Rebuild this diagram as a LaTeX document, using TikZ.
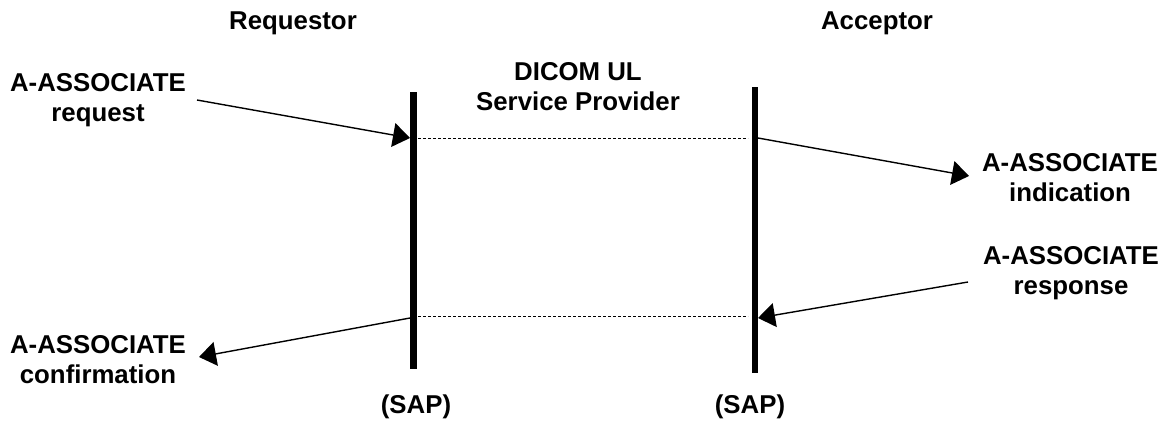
\documentclass[tikz,border=0pt]{standalone}
\usepackage{fontspec}
\setmainfont{Liberation Sans}
\usetikzlibrary{arrows.meta}
\begin{document}
\begin{tikzpicture}[x=1pt,y=-1pt,
  lbl/.style={font=\bfseries\fontsize{25.8}{30.5}\selectfont, align=center, inner sep=0pt, anchor=north},
  bar/.style={line width=6.5pt},
  dashline/.style={line width=0.9pt, dash pattern=on 3pt off 2pt},
  msg/.style={line width=1.4pt, -{Triangle[length=17pt,width=24pt]}, shorten >=0pt}]
\useasboundingbox (0,0) rectangle (1167,429);
% titles
\node[lbl] (req) at (293,12) {Requestor};
\node[lbl] (acc) at (877,12) {Acceptor};
\node[lbl] (prov) at (578,62) {DICOM UL\\Service Provider};
% bars
\coordinate (LT) at (413.5,92);
\coordinate (LB) at (413.5,369);
\coordinate (RT) at (755,87);
\coordinate (RB) at (755,373);
\draw[bar] (LT) -- (LB);
\draw[bar] (RT) -- (RB);
% points on bars
\coordinate (L1) at (410,138);
\coordinate (L1r) at (418,138);
\coordinate (R1l) at (748,138);
\coordinate (R1) at (758,138);
\coordinate (L2) at (410,318);
\coordinate (L2r) at (418,316);
\coordinate (R2l) at (748,316);
\coordinate (R2) at (758,318);
\draw[dashline] (L1r) -- (R1l);
\draw[dashline] (L2r) -- (R2l);
% labels
\node[lbl] (areq) at (98,73) {A-ASSOCIATE\\request};
\node[lbl] (aind) at (1070,153) {A-ASSOCIATE\\indication};
\node[lbl] (ares) at (1071,246) {A-ASSOCIATE\\response};
\node[lbl] (acon) at (98,335) {A-ASSOCIATE\\confirmation};
\node[lbl] (sapl) at (416,395) {(SAP)};
\node[lbl] (sapr) at (750,395) {(SAP)};
% arrow ends
\coordinate (a1s) at (197,100);
\coordinate (a2e) at (969,176);
\coordinate (a3s) at (968,282);
\coordinate (a4e) at (199,357);
\draw[msg] (a1s) -- (L1);
\draw[msg] (R1) -- (a2e);
\draw[msg] (a3s) -- (R2);
\draw[msg] (L2) -- (a4e);
\end{tikzpicture}
\end{document}
